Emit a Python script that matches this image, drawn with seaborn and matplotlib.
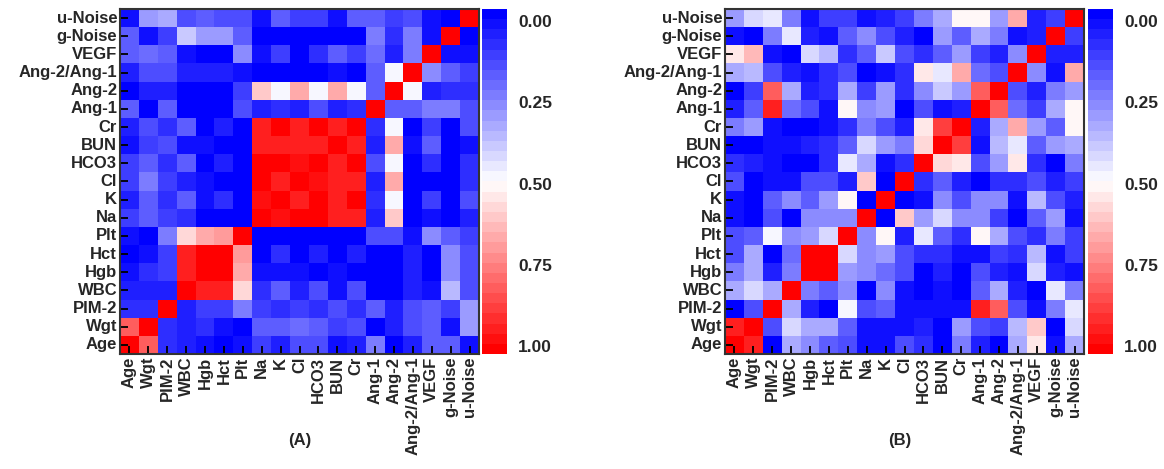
import numpy as np
import pandas as pd
import matplotlib
matplotlib.use("Agg")
import matplotlib.pyplot as plt
import seaborn as sns
from matplotlib.colors import LinearSegmentedColormap

sns.set_style("white")
plt.rcParams['font.family'] = ['Liberation Sans', 'DejaVu Sans']
plt.rcParams['font.weight'] = 'bold'
plt.rcParams['axes.axisbelow'] = False

variables = ["Age", "Wgt", "PIM-2", "WBC", "Hgb", "Hct", "Plt", "Na", "K", "Cl", "HCO3",
             "BUN", "Cr", "Ang-1", "Ang-2", "Ang-2/Ang-1", "VEGF", "g-Noise", "u-Noise"]
# rows listed top to bottom (u-Noise ... Age), columns Age ... u-Noise
row_labels = variables[::-1]

values_a = [
    [0.03,0.30,0.33,0.15,0.18,0.15,0.15,0.05,0.18,0.13,0.13,0.03,0.18,0.18,0.12,0.15,0.03,0.00,1.00],
    [0.20,0.03,0.12,0.40,0.30,0.30,0.20,0.00,0.00,0.00,0.00,0.00,0.00,0.25,0.10,0.25,0.03,1.00,0.00],
    [0.18,0.22,0.18,0.03,0.00,0.00,0.28,0.03,0.12,0.00,0.10,0.20,0.13,0.23,0.07,0.25,1.00,0.03,0.03],
    [0.07,0.15,0.15,0.07,0.07,0.07,0.03,0.00,0.00,0.00,0.00,0.03,0.00,0.20,0.48,1.00,0.27,0.20,0.12],
    [0.00,0.07,0.07,0.00,0.00,0.00,0.12,0.60,0.48,0.67,0.48,0.67,0.48,0.20,1.00,0.48,0.07,0.10,0.10],
    [0.20,0.00,0.18,0.00,0.00,0.00,0.17,0.07,0.10,0.07,0.17,0.07,0.10,1.00,0.20,0.20,0.25,0.25,0.15],
    [0.07,0.17,0.10,0.20,0.00,0.07,0.00,0.93,1.00,0.93,1.00,0.93,1.00,0.10,0.48,0.00,0.13,0.00,0.17],
    [0.03,0.13,0.17,0.03,0.03,0.00,0.00,0.93,0.93,0.93,0.93,1.00,0.93,0.07,0.67,0.03,0.20,0.00,0.03],
    [0.13,0.20,0.10,0.18,0.00,0.07,0.00,1.00,1.00,0.97,1.00,0.93,1.00,0.15,0.48,0.00,0.10,0.00,0.10],
    [0.13,0.25,0.13,0.07,0.03,0.00,0.00,1.00,0.93,1.00,0.97,0.93,0.93,0.07,0.67,0.00,0.00,0.00,0.10],
    [0.07,0.20,0.10,0.20,0.03,0.10,0.00,0.97,1.00,0.93,1.00,0.93,1.00,0.10,0.48,0.00,0.13,0.00,0.17],
    [0.13,0.20,0.13,0.10,0.00,0.00,0.00,1.00,0.97,1.00,1.00,0.93,0.93,0.07,0.60,0.00,0.03,0.00,0.07],
    [0.03,0.00,0.25,0.58,0.67,0.70,1.00,0.00,0.00,0.00,0.00,0.00,0.00,0.17,0.15,0.03,0.27,0.20,0.13],
    [0.00,0.03,0.13,0.93,1.00,1.00,0.68,0.00,0.10,0.00,0.07,0.00,0.07,0.00,0.00,0.07,0.00,0.28,0.15],
    [0.03,0.10,0.13,0.93,1.00,1.00,0.65,0.03,0.03,0.03,0.00,0.03,0.00,0.00,0.00,0.07,0.00,0.28,0.15],
    [0.07,0.07,0.07,1.00,0.93,0.93,0.58,0.10,0.20,0.07,0.17,0.03,0.17,0.00,0.00,0.07,0.03,0.38,0.15],
    [0.10,0.10,1.00,0.07,0.13,0.13,0.25,0.13,0.10,0.13,0.10,0.15,0.10,0.20,0.07,0.15,0.18,0.13,0.30],
    [0.80,1.00,0.10,0.07,0.10,0.03,0.00,0.18,0.18,0.23,0.20,0.13,0.17,0.00,0.07,0.15,0.20,0.03,0.30],
    [1.00,0.80,0.10,0.07,0.03,0.00,0.03,0.12,0.07,0.15,0.15,0.03,0.07,0.25,0.00,0.07,0.20,0.20,0.03],
]

values_b = [
    [0.30,0.42,0.45,0.25,0.03,0.13,0.13,0.03,0.07,0.13,0.25,0.35,0.52,0.52,0.32,0.65,0.07,0.13,1.00],
    [0.03,0.00,0.25,0.45,0.07,0.03,0.20,0.28,0.15,0.07,0.00,0.32,0.20,0.35,0.25,0.03,0.07,1.00,0.13],
    [0.55,0.62,0.03,0.00,0.42,0.38,0.10,0.20,0.40,0.17,0.10,0.20,0.30,0.13,0.07,0.28,1.00,0.07,0.07],
    [0.35,0.38,0.15,0.07,0.03,0.10,0.15,0.00,0.03,0.10,0.55,0.45,0.65,0.23,0.17,1.00,0.28,0.03,0.65],
    [0.00,0.12,0.82,0.35,0.07,0.10,0.33,0.13,0.30,0.10,0.28,0.40,0.32,0.80,1.00,0.17,0.07,0.25,0.32],
    [0.07,0.18,0.93,0.22,0.15,0.03,0.52,0.27,0.30,0.00,0.17,0.03,0.07,1.00,0.80,0.23,0.13,0.35,0.52],
    [0.25,0.30,0.03,0.00,0.00,0.03,0.10,0.25,0.17,0.07,0.55,0.88,1.00,0.07,0.33,0.65,0.32,0.20,0.52],
    [0.00,0.00,0.03,0.03,0.07,0.10,0.20,0.42,0.30,0.25,0.58,1.00,0.88,0.03,0.38,0.45,0.20,0.32,0.35],
    [0.10,0.07,0.03,0.00,0.00,0.10,0.45,0.33,0.03,0.10,1.00,0.58,0.55,0.17,0.30,0.55,0.10,0.00,0.25],
    [0.15,0.00,0.03,0.03,0.15,0.17,0.07,0.60,0.00,1.00,0.10,0.20,0.07,0.00,0.10,0.10,0.15,0.07,0.13],
    [0.03,0.00,0.20,0.27,0.20,0.30,0.52,0.00,1.00,0.00,0.03,0.28,0.15,0.28,0.28,0.03,0.38,0.15,0.07],
    [0.03,0.00,0.17,0.00,0.27,0.27,0.27,1.00,0.00,0.60,0.30,0.42,0.27,0.27,0.13,0.00,0.20,0.30,0.03],
    [0.15,0.20,0.48,0.27,0.30,0.42,1.00,0.27,0.52,0.07,0.45,0.20,0.10,0.52,0.35,0.15,0.10,0.25,0.13],
    [0.15,0.35,0.00,0.22,1.00,1.00,0.42,0.27,0.30,0.17,0.10,0.10,0.03,0.03,0.13,0.10,0.38,0.03,0.13],
    [0.25,0.35,0.07,0.25,1.00,1.00,0.32,0.27,0.22,0.15,0.00,0.07,0.00,0.15,0.07,0.03,0.42,0.07,0.03],
    [0.35,0.42,0.35,1.00,0.25,0.20,0.27,0.00,0.28,0.03,0.00,0.03,0.00,0.20,0.35,0.07,0.00,0.45,0.25],
    [0.00,0.15,1.00,0.35,0.07,0.00,0.48,0.17,0.20,0.03,0.03,0.03,0.03,0.93,0.82,0.15,0.03,0.25,0.45],
    [0.93,1.00,0.15,0.42,0.35,0.35,0.20,0.03,0.03,0.03,0.07,0.00,0.32,0.17,0.13,0.38,0.60,0.00,0.42],
    [1.00,0.93,0.00,0.35,0.27,0.20,0.17,0.03,0.03,0.15,0.10,0.00,0.25,0.07,0.00,0.35,0.55,0.03,0.35],
]

panel_labels = ["(A)", "(B)"]
cbar_ticks = [0.035, 0.2705, 0.506, 0.742, 0.977]
cbar_ticklabels = ["0.00", "0.25", "0.50", "0.75", "1.00"]

cmap = LinearSegmentedColormap.from_list("bwr_steps", ["#0000ff", "#ffffff", "#ff0000"], N=34)

W, H = 1164, 469
fig = plt.figure(figsize=(W / 100, H / 100), dpi=100)

def px_rect(x0, y0, x1, y1):
    return [x0 / W, 1 - y1 / H, (x1 - x0) / W, (y1 - y0) / H]

layouts = [
    dict(ax=(120, 9, 479, 354), cb=(482, 9, 507, 354), lab=(300, 440)),
    dict(ax=(725, 9, 1084, 354), cb=(1088, 9, 1113, 354), lab=(900, 440)),
]

for vals, lab, lay in zip([values_a, values_b], panel_labels, layouts):
    df = pd.DataFrame(vals, index=row_labels, columns=variables)
    ax = fig.add_axes(px_rect(*lay["ax"]))
    cax = fig.add_axes(px_rect(*lay["cb"]))
    sns.heatmap(df, ax=ax, cmap=cmap, vmin=0, vmax=1, cbar_ax=cax,
                xticklabels=True, yticklabels=True, square=False)
    ax.set_axisbelow(False)
    cax.invert_yaxis()
    cb = ax.collections[0].colorbar
    cb.outline.set_visible(False)
    cb.set_ticks(cbar_ticks)
    cb.set_ticklabels(cbar_ticklabels)
    cax.tick_params(length=0, labelsize=12.5, pad=8)
    for t in cax.get_yticklabels():
        t.set_fontweight('bold')
    for s in ax.spines.values():
        s.set_visible(True)
        s.set_color('#333333')
        s.set_linewidth(1.5)
        s.set_zorder(3)
    ax.tick_params(axis='both', which='major', direction='in', length=6, width=1.3,
                   color='black', labelsize=12, pad=2, bottom=True, left=True)
    ax.set_xticklabels(variables, rotation=90, fontweight='bold')
    ax.set_yticklabels(row_labels, rotation=0, fontweight='bold')
    ax.set_xlabel("")
    ax.set_ylabel("")
    fig.text(lay["lab"][0] / W, 1 - lay["lab"][1] / H, lab, ha='center', va='center',
             fontsize=12, fontweight='bold')

fig.savefig("out.png", dpi=100)
